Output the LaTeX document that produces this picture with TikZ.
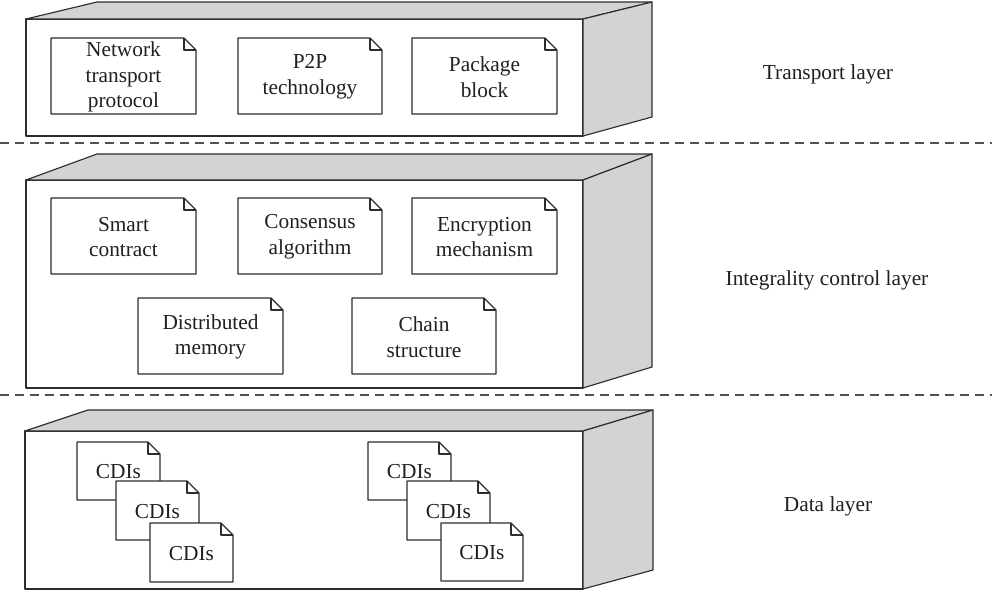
\documentclass[tikz,border=0pt]{standalone}
\usepackage{fontspec}
\setmainfont{Liberation Serif}
\definecolor{facegray}{RGB}{211,211,213}
\definecolor{linec}{RGB}{45,45,45}
\definecolor{textc}{RGB}{35,31,32}
\definecolor{dashc}{RGB}{80,80,80}
\tikzset{
  boxline/.style={draw=linec,line width=0.85pt,line join=round},
  sepline/.style={draw=dashc,line width=0.8pt,dash pattern=on 6.75pt off 4.5pt},
  notetext/.style={inner sep=0pt,align=center,text=textc,font=\fontsize{16}{19.2}\selectfont},
  layerlabel/.style={inner sep=0pt,text=textc,font=\fontsize{16}{19.5}\selectfont},
}
% cuboid: front x1,y1 (top-left) x2,y2 (bottom-right); back-left x, back-right x, back top y, back bottom y
\newcommand{\cuboid}[8]{%
  \path[boxline,fill=white] (#1,#2) rectangle (#3,#4);
  \path[boxline,fill=facegray] (#1,#2) -- (#5,#7) -- (#6,#7) -- (#3,#2) -- cycle;
  \path[boxline,fill=facegray] (#3,#2) -- (#6,#7) -- (#6,#8) -- (#3,#4) -- cycle;
}
% note: name, x1, y1, x2, y2, text
\newcommand{\docnote}[6]{%
  \path[boxline,fill=white] (#2,#3) -- ({#4-12},#3) -- (#4,{#3+12}) -- (#4,#5) -- (#2,#5) -- cycle;
  \draw[boxline] ({#4-12},#3) -- ({#4-12},{#3+12}) -- (#4,{#3+12});
  \node[notetext] (#1) at ({(#2+#4)/2},{(#3+#5)/2+1}) {#6};
}
\begin{document}
\begin{tikzpicture}[x=0.75pt,y=-0.75pt]
\useasboundingbox (0,0) rectangle (992,593);
\fill[white] (0,0) rectangle (992,593);

% separators
\draw[sepline] (0,143) -- (992,143);
\draw[sepline] (0,395) -- (992,395);

% boxes
\cuboid{26}{19}{583}{136}{97}{652}{2}{117}
\cuboid{26}{180}{583}{388}{97}{652}{154}{367}
\cuboid{25}{431}{583}{589}{88}{653}{410}{570}

% transport layer notes
\docnote{ntp}{51}{38}{196}{114}{Network\\transport\\protocol}
\docnote{p2p}{238}{38}{382}{114}{P2P\\technology}
\docnote{pkb}{412}{38}{557}{114}{Package\\block}

% integrality control layer notes
\docnote{smc}{51}{198}{196}{274}{Smart\\contract}
\docnote{csa}{238}{198}{382}{274}{Consensus\\algorithm}
\docnote{enm}{412}{198}{557}{274}{Encryption\\mechanism}
\docnote{dsm}{138}{298}{283}{374}{Distributed\\memory}
\docnote{chs}{352}{298}{496}{374}{Chain\\structure}

% data layer notes
\docnote{cdA}{77}{442}{160}{500}{CDIs}
\docnote{cdB}{116}{481}{199}{540}{CDIs}
\docnote{cdC}{150}{523}{233}{582}{CDIs}
\docnote{cdD}{368}{442}{451}{500}{CDIs}
\docnote{cdE}{407}{481}{490}{540}{CDIs}
\docnote{cdF}{441}{523}{523}{581}{CDIs}

% layer labels
\node[layerlabel] (lt) at (828,74) {Transport layer};
\node[layerlabel] (li) at (827,280) {Integrality control layer};
\node[layerlabel] (ld) at (828,506) {Data layer};
\end{tikzpicture}
\end{document}
